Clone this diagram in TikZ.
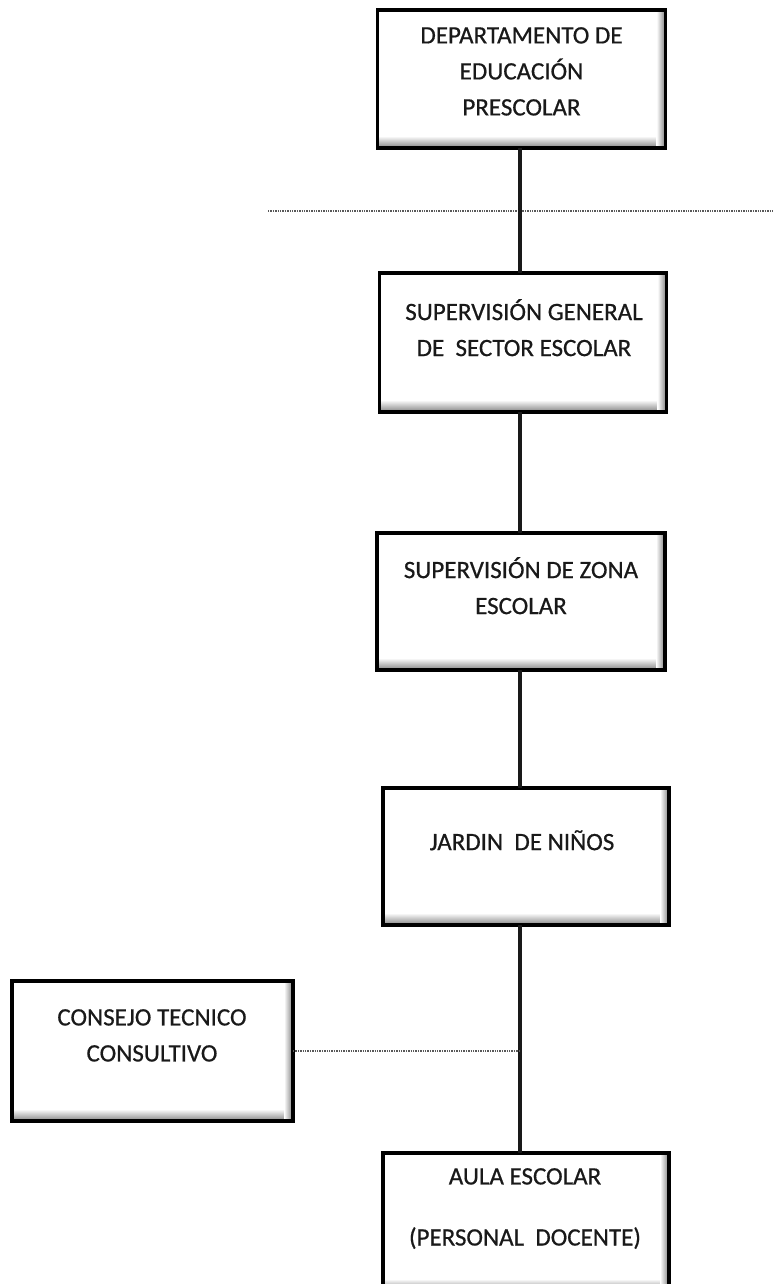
\documentclass[tikz,border=0pt]{standalone}
\usepackage{fontspec}
\setmainfont{Carlito}
\newfontfamily\boxfont[FakeBold=0.6]{Carlito}
\begin{document}
\begin{tikzpicture}[x=1pt,y=-1pt,
  boxst/.style={draw=black, line width=3.8pt, fill=white, rectangle, outer sep=0pt, inner sep=0pt},
  txt/.style={font=\boxfont\fontsize{25}{36}\selectfont, text=black!90, align=center, inner sep=0pt},
  conn/.style={line width=3.2pt, draw=black!90},
  dotline/.style={line width=2pt, draw=black!65, dash pattern=on 1.3pt off 1.1pt}]
\useasboundingbox (0,0) rectangle (774,1284);
\newcommand\orgbox[5]{%
  \node[boxst, minimum width=#4pt, minimum height=#5pt] (#1) at (#2,#3) {};
  \shade[top color=white, bottom color=black!45] ([xshift=1pt,yshift=12pt]#1.south west) rectangle ([xshift=-9pt,yshift=1pt]#1.south east);
  \shade[left color=white, right color=black!45] ([xshift=-9pt,yshift=1pt]#1.south east) rectangle ([xshift=-1pt,yshift=-1pt]#1.north east);
  \draw[line width=3.8pt] (#1.south west) rectangle (#1.north east);}
\coordinate (spine) at (520,0);
% boxes
\orgbox{dep}{521.5}{79}{288}{138}
\orgbox{sgen}{523}{342.5}{287}{139}
\orgbox{szona}{521}{601.5}{288}{137}
\orgbox{jar}{526}{856.5}{286}{137}
\orgbox{cons}{152.5}{1051}{281}{140}
\orgbox{aula}{526}{1222}{286}{138}
% texts
\node[txt, anchor=north] (tdep) at (521.5,27) {DEPARTAMENTO DE\\EDUCACIÓN\\PRESCOLAR};
\node[txt, anchor=north] (tsgen) at (524,299) {SUPERVISIÓN GENERAL\\DE\ \ SECTOR ESCOLAR};
\node[txt, anchor=north] (tszona) at (521,557) {SUPERVISIÓN DE ZONA\\ESCOLAR};
\node[txt, anchor=north] (tjar) at (522,830) {JARDIN\ \ DE NIÑOS};
\node[txt, anchor=north] (tcons) at (152,1009) {CONSEJO TECNICO\\CONSULTIVO};
\node[txt, anchor=north] (taula1) at (525,1168) {AULA ESCOLAR};
\node[txt, anchor=north] (taula2) at (525,1227) {(PERSONAL\ \ DOCENTE)};
% dotted separator
\coordinate (sepL) at (268,211);
\coordinate (sepR) at (774,211);
\draw[dotline] (sepL) -- (sepR);
% connectors
\draw[conn] (dep.south -| spine) -- (sgen.north -| spine);
\draw[conn] (sgen.south -| spine) -- (szona.north -| spine);
\draw[conn] (szona.south -| spine) -- (jar.north -| spine);
\draw[conn] (jar.south -| spine) -- (aula.north -| spine);
\coordinate (tj) at (cons.east -| spine);
\draw[dotline] (cons.east) -- (tj);
\end{tikzpicture}
\end{document}
